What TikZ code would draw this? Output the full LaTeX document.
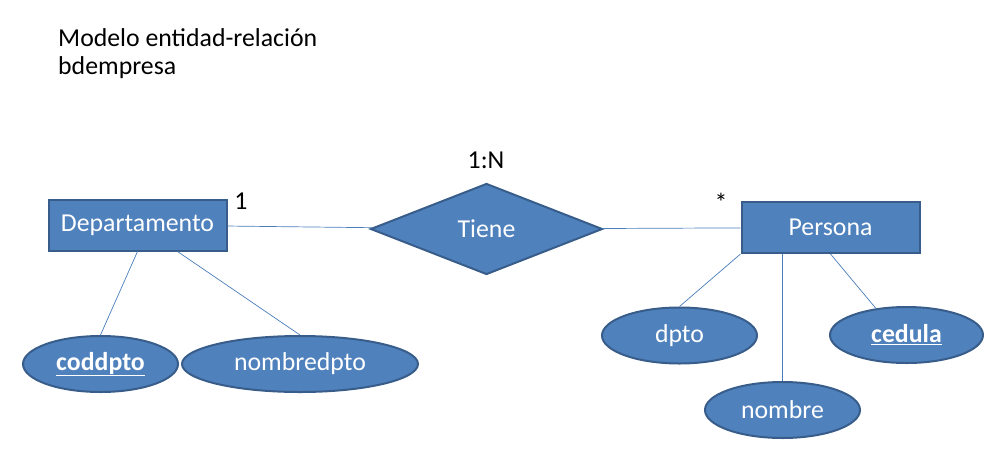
\documentclass[tikz,border=0pt]{standalone}
\usepackage{fontspec}
\setmainfont{Carlito}
\usetikzlibrary{shapes.geometric}
\definecolor{erfill}{HTML}{4F81BD}
\definecolor{erdraw}{HTML}{385D8A}
\definecolor{erline}{HTML}{4A7EBB}

\begin{document}
\begin{tikzpicture}[x=1pt,y=-1pt,
  every node/.style={font=\fontsize{25.8}{30}\selectfont},
  entity/.style={rectangle,fill=erfill,draw=erdraw,line width=2pt,text=white,
    minimum width=178pt,minimum height=51pt,inner sep=0pt},
  attr/.style={ellipse,fill=erfill,draw=erdraw,line width=2pt,text=white,
    minimum height=56pt,inner sep=0pt},
  rel/.style={diamond,fill=erfill,draw=erdraw,line width=2pt,text=white,
    aspect=2.53,minimum width=232pt,minimum height=91pt,inner sep=0pt},
  card/.style={text=black,inner sep=0pt},
  link/.style={draw=erline,line width=0.7pt}]
  \useasboundingbox (0,0) rectangle (986,448);

  \node[anchor=north west,align=left,inner sep=0pt,
    font=\fontsize{25.8}{28}\selectfont] (title) at (58,28)
    {Modelo entidad-relación\\bdempresa};

  \node[entity] (dep) at (137.5,225) {Departamento};
  \node[rel] (tiene) at (486.5,229) {Tiene};
  \node[entity] (per) at (830.5,227.5) {Persona};

  \node[attr,minimum width=155pt] (coddpto) at (100.5,364) {\underline{\textbf{coddpto}}};
  \node[attr,minimum width=236pt] (nombredpto) at (300,364) {nombredpto};
  \node[attr,minimum width=155pt] (dpto) at (679.5,335.5) {dpto};
  \node[attr,minimum width=153pt] (cedula) at (906.5,335) {\underline{\textbf{cedula}}};
  \node[attr,minimum width=155pt] (nombre) at (782.5,410) {nombre};

  \node[card] (c1) at (241,201) {1};
  \node[card] (cn) at (721,202) {*};
  \node[card] (c1n) at (486,160) {1:N};

  \path[link]
    (dep) edge (tiene)
    (tiene) edge (per)
    (dep.south) edge (coddpto.north)
    ([xshift=40pt]dep.south) edge (nombredpto.north)
    (per.south west) edge (dpto.north)
    ([xshift=-48pt]per.south) edge (nombre.north)
    (per.south) edge (cedula.139);
\end{tikzpicture}
\end{document}
